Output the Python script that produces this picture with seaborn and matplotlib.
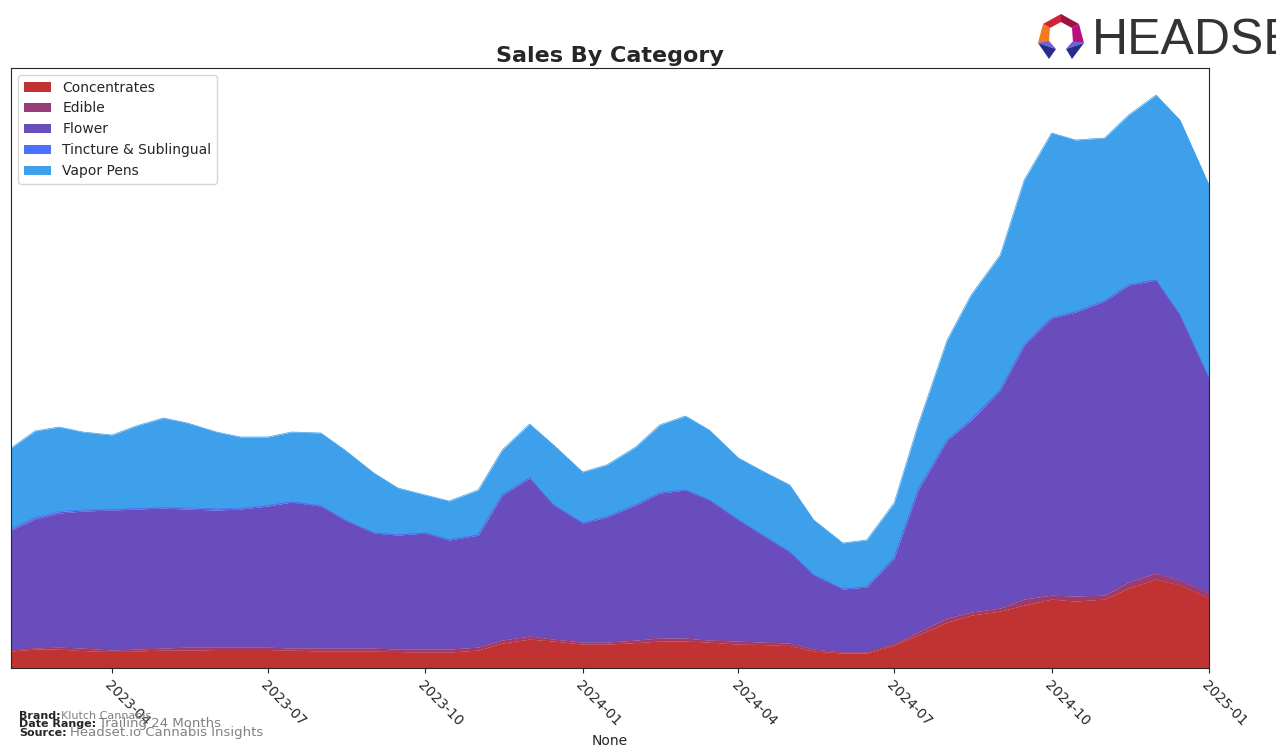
import numpy as np
import pandas as pd
import matplotlib.pyplot as plt
from matplotlib.patches import Polygon
import seaborn as sns

sns.set_style('ticks')

# one value per half month
dates = pd.date_range('2023-02-01', '2025-01-01', freq='SMS')

concentrates = [17, 19, 19, 17.5, 16.5, 17, 18, 18, 18.5, 18.5, 18.5, 18, 17, 17, 17, 16.5, 16, 16, 18, 25, 29, 27, 24, 24,
                25.5, 27, 27, 26, 24, 23.5, 22.5, 17, 15, 15, 23, 33, 46, 53, 57, 63, 69, 67, 69, 80, 89, 83, 70]
edible = [1, 1, 2, 2.5, 1.5, 2, 2, 3, 2.5, 2.5, 2.5, 2, 3, 3, 3, 2.5, 3, 3, 3, 3, 3, 2, 2, 2,
          2.5, 3, 3, 2, 3, 2.5, 2.5, 2, 1, 1, 1, 3, 4, 3, 3, 6, 4, 5, 4, 6, 6, 5, 5]
flower = [120, 129, 134, 137, 140, 140, 140, 138, 137, 138, 141, 146, 142, 128, 115, 114, 116, 109, 112, 145, 158, 134, 119, 125,
          135, 145, 148, 140, 121, 107, 91, 74, 63, 65, 86, 142, 178, 192, 218, 254, 277, 284, 294, 297, 293, 265, 215]
tincture = [1, 1.5, 1.5, 1, 0.5, 0.3, 0.3, 1, 1.2, 0.5, 0.3, 0, 0, 0, 0, 0, 0, 0, 0, 0, 0, 0, 0, 0,
            0, 0, 0, 0, 0, 0, 0, 0, 0, 0, 0, 0, 0, 0, 0, 0, 0, 0, 0, 0, 0, 0, 0]
vapor = [81, 86.5, 84.5, 78, 74.5, 82.7, 89.7, 85, 76.8, 71.5, 68.7, 70, 73, 70, 60, 47, 38, 39, 45, 45, 54, 60, 51, 52,
         58, 68, 74, 70, 62, 64, 67, 55, 46, 47, 55, 65, 100, 125, 135, 165, 185, 172, 163, 170, 185, 195, 193]

categories = ['Concentrates', 'Edible', 'Flower', 'Tincture & Sublingual', 'Vapor Pens']
colors = sns.color_palette(['#C13333', '#963C78', '#6A4DBC', '#4A72FF', '#3E9FEB'])
series = [concentrates, edible, flower, tincture, vapor]

fig = plt.figure(figsize=(12.76, 7.48), dpi=100)
ax = fig.add_axes([11 / 1276, 1 - 668 / 748, 1198 / 1276, 600 / 748])

ax.stackplot(dates, series, labels=categories, colors=colors, linewidth=0)
tops = np.cumsum(series, axis=0)
for top, c in zip(tops, colors):
    sns.lineplot(x=dates, y=top, color=c, lw=0.5, ax=ax, legend=False)

ax.set_xlim(dates[0], dates[-1])
ax.set_ylim(0, 600)
ax.set_yticks([])
ax.set_ylabel('')
ax.set_xticks(pd.to_datetime(['2023-04-01', '2023-07-01', '2023-10-01', '2024-01-01',
                              '2024-04-01', '2024-07-01', '2024-10-01', '2025-01-01']))
ax.set_xticklabels(['2023-04', '2023-07', '2023-10', '2024-01', '2024-04', '2024-07', '2024-10', '2025-01'],
                   rotation=-45, ha='left', rotation_mode='anchor', fontsize=10)
ax.set_title('Sales By Category', fontsize=16, fontweight='bold', pad=4)

handles, labels = ax.get_legend_handles_labels()
ax.legend(handles[:5], labels[:5], loc='upper left', fontsize=10, frameon=True)

# footer
fig.text(19 / 1276, 1 - 719 / 748, 'Brand:', fontsize=8, fontweight='bold')
fig.text(61 / 1276, 1 - 719 / 748, 'Klutch Cannabis', fontsize=8, color='gray')
fig.text(19 / 1276, 1 - 727 / 748, 'Date Range:', fontsize=8, fontweight='bold')
fig.text(99 / 1276, 1 - 727 / 748, 'Trailing 24 Months', fontsize=9.5, color='gray')
fig.text(19 / 1276, 1 - 736 / 748, 'Source:', fontsize=8, fontweight='bold')
fig.text(70 / 1276, 1 - 736 / 748, 'Headset.io Cannabis Insights', fontsize=9.5, color='gray')

# logo
fig.text(1092 / 1276, 1 - 54 / 748, 'HEADSET', fontsize=36, color='#333333',
         family=['Liberation Sans Narrow', 'Liberation Sans'])
logo = fig.add_axes([1030 / 1276, 1 - 66 / 748, 60 / 1276, 60 / 748])
logo.set_xlim(1030, 1090)
logo.set_ylim(66, 6)
logo.axis('off')
logo_parts = [
    ([(1043, 24), (1061, 14), (1061, 22), (1050, 28)], '#D0233A'),
    ([(1061, 14), (1079, 24), (1072, 28), (1061, 22)], '#9E1240'),
    ([(1043, 24), (1050, 28), (1049, 42), (1038, 43)], '#F47B20'),
    ([(1079, 24), (1072, 28), (1073, 42), (1084, 43)], '#B8107E'),
    ([(1038, 43), (1049, 41), (1056, 49)], '#6A63D8'),
    ([(1038, 43), (1056, 49), (1049, 59)], '#2A2C8C'),
    ([(1084, 43), (1073, 41), (1066, 49)], '#6A63D8'),
    ([(1084, 43), (1066, 49), (1072, 59)], '#2A2C8C'),
]
for pts, c in logo_parts:
    logo.add_patch(Polygon(pts, closed=True, color=c, lw=0))

fig.savefig('out.png', dpi=100)
